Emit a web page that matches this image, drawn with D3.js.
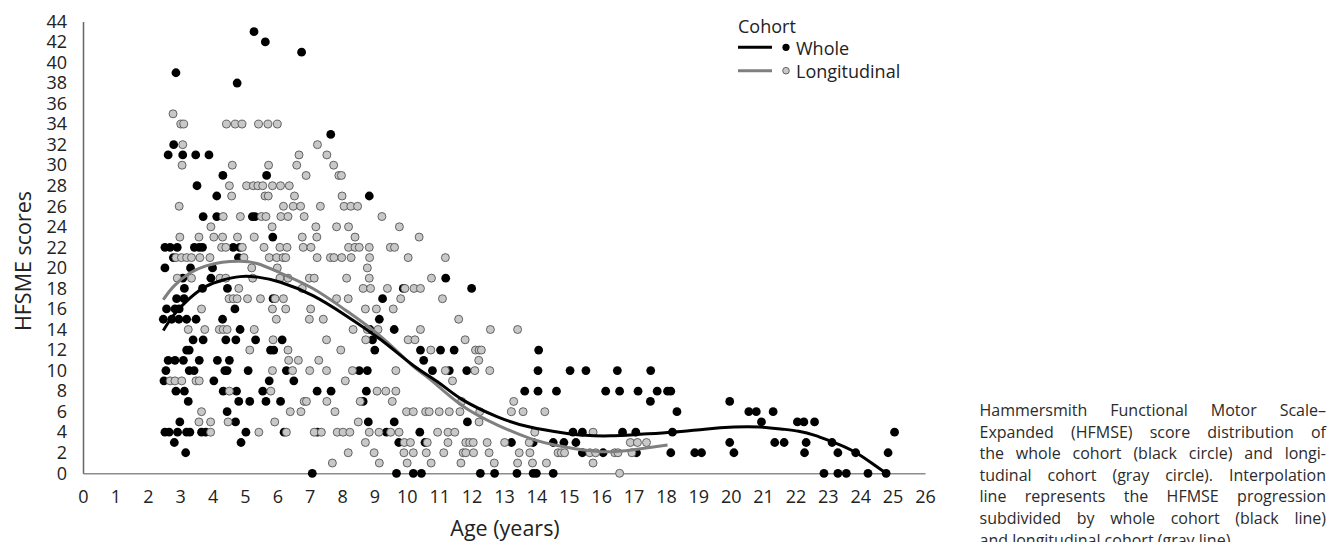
<!DOCTYPE html>
<html>
<head>
<meta charset="utf-8">
<script src="https://cdn.jsdelivr.net/npm/d3@7"></script>
<style>
body { margin: 0; background: #fff; }
svg { display: block; font-family: "Open Sans", sans-serif; }
</style>
</head>
<body>
<svg width="1329" height="542"></svg>
<script>
var xTicks = d3.range(0, 27);
var yTicks = d3.range(0, 45, 2);

// whole cohort (black circles): [score, [ages]]
var wholeRows = [
  [43, [5.28]], [42, [5.63]], [41, [6.75]], [39, [2.87]], [38, [4.76]],
  [33, [7.65]], [32, [2.80]], [31, [2.63, 3.08, 3.48, 3.89]],
  [29, [4.32, 5.67]], [28, [3.52]], [27, [4.13, 8.84]],
  [25, [3.71, 4.13, 5.23, 5.31]], [23, [5.86]],
  [22, [2.53, 2.69, 2.91, 3.44, 3.59, 3.69, 4.64, 4.84]],
  [21, [2.79, 4.80]], [20, [2.53, 3.32, 4.00]],
  [19, [3.08, 3.95, 11.20]], [18, [3.13, 3.69, 4.46, 9.89, 12.00]],
  [17, [2.89, 3.12, 5.87, 9.25]], [16, [2.58, 2.84, 2.97, 4.69]],
  [15, [2.48, 2.74, 2.96, 3.20, 3.49, 4.31, 9.15]],
  [14, [4.85, 8.86, 9.61]],
  [13, [3.40, 3.71, 4.41, 4.72, 5.33, 6.15, 8.94]],
  [12, [3.20, 3.28, 5.79, 5.89, 9.01, 10.42, 11.04, 11.46, 14.07]],
  [11, [2.63, 2.84, 3.10, 3.59, 4.15, 4.52, 10.52]],
  [10, [2.56, 3.28, 3.43, 4.38, 4.45, 5.10, 6.28, 8.53, 8.78, 10.79, 11.31, 11.85, 14.05, 15.04, 15.53, 16.50, 17.53]],
  [9, [2.50, 4.04, 5.75, 6.51]],
  [8, [2.87, 3.13, 4.33, 4.74, 5.55, 7.23, 7.66, 8.75, 13.64, 14.05, 14.62, 16.14, 16.57, 17.14, 17.73, 18.05, 18.15]],
  [7, [3.25, 4.81, 5.15, 5.65, 6.10, 8.65, 17.52, 19.97]],
  [6, [4.45, 18.34, 20.56, 20.79, 21.31]],
  [5, [2.99, 4.71, 8.81, 9.61, 11.87, 20.95, 22.06, 22.26, 22.59]],
  [4, [2.53, 2.66, 2.92, 3.20, 3.30, 3.66, 3.79, 5.03, 6.21, 7.24, 9.37, 10.40, 15.13, 15.42, 16.66, 17.07, 18.20, 25.06]],
  [3, [2.82, 4.88, 9.75, 10.56, 13.23, 13.90, 14.52, 14.85, 15.22, 19.97, 21.36, 21.65, 22.33, 23.13]],
  [2, [3.17, 15.42, 16.06, 17.09, 18.15, 18.89, 19.10, 20.10, 22.28, 23.31, 23.86, 24.86]],
  [0, [7.08, 9.68, 10.20, 10.45, 12.27, 12.71, 13.40, 13.90, 14.00, 14.52, 22.88, 23.31, 23.57, 24.24, 24.80]]
];

// longitudinal cohort (gray circles): [score, [ages]]
var longRows = [
  [35, [2.78]], [34, [3.02, 3.11, 4.43, 4.70, 4.91, 5.42, 5.71, 6.00]],
  [32, [3.08, 7.24]], [31, [6.67, 7.53]], [30, [3.06, 4.61, 5.73, 6.60, 7.74]],
  [29, [6.89, 7.90, 7.98]], [28, [4.52, 5.05, 5.26, 5.40, 5.55, 5.85, 6.10, 6.37]],
  [27, [4.59, 5.62, 5.72, 6.53, 8.00]],
  [26, [2.97, 6.19, 6.49, 6.72, 7.33, 8.06, 8.27, 8.48]],
  [25, [4.33, 4.86, 5.51, 5.65, 6.11, 6.33, 6.83, 9.23]],
  [24, [3.95, 5.84, 7.19, 7.83, 8.20, 9.77]],
  [23, [2.99, 3.58, 4.04, 4.31, 4.77, 5.29, 6.77, 7.22, 8.40, 10.38]],
  [22, [4.28, 4.41, 4.92, 5.59, 6.08, 6.30, 6.80, 7.04, 8.20, 8.40, 8.53, 8.84, 9.49, 9.62]],
  [21, [2.87, 3.04, 3.20, 3.35, 3.61, 3.92, 4.97, 5.75, 5.98, 6.18, 6.26, 7.23, 7.64, 7.75, 7.99, 8.28, 8.85, 10.04, 11.19]],
  [20, [5.21, 6.00, 8.78]],
  [19, [2.91, 3.35, 4.23, 4.41, 5.24, 6.08, 6.33, 6.99, 7.14, 8.14, 8.84, 10.76]],
  [18, [4.81, 6.77, 8.65, 8.88, 9.40, 9.94, 10.22, 10.42]],
  [17, [4.51, 4.64, 4.76, 5.08, 5.48, 5.93, 6.19, 7.83, 8.19, 9.81, 11.10]],
  [16, [3.66, 5.85, 6.26, 7.03, 8.72, 9.06, 9.58]],
  [15, [5.97, 6.99, 7.42, 11.60]],
  [14, [3.25, 3.76, 4.21, 4.33, 4.45, 5.29, 8.34, 8.78, 9.11, 10.42, 12.58, 13.42]],
  [13, [5.87, 7.52, 8.73, 10.04, 10.25, 11.80]],
  [12, [5.15, 6.33, 7.96, 10.74, 12.12, 12.23, 12.30]],
  [11, [6.35, 6.65, 7.28, 12.22]],
  [10, [5.85, 6.47, 7.00, 7.52, 8.32, 9.66, 11.19, 12.10, 12.56]],
  [9, [2.69, 2.84, 3.05, 3.49, 3.59, 8.10, 11.41]],
  [8, [4.52, 5.80, 9.08, 9.35, 9.66]],
  [7, [6.83, 6.90, 7.53, 8.56, 9.55, 11.69, 13.30]],
  [6, [3.66, 6.40, 6.73, 7.78, 9.99, 10.20, 10.58, 10.69, 11.00, 11.31, 11.64, 12.25, 13.23, 13.59, 14.26]],
  [5, [3.58, 3.94, 4.48, 5.92, 8.50, 12.23]],
  [4, [3.94, 5.43, 6.28, 7.14, 7.36, 7.85, 8.03, 8.24, 8.84, 9.14, 9.50, 9.76, 10.95, 11.27, 11.48, 13.95, 15.75]],
  [3, [8.72, 9.92, 10.11, 10.63, 11.27, 11.82, 11.94, 12.05, 12.48, 13.02, 13.78, 16.90, 17.12, 17.40]],
  [2, [8.19, 8.99, 9.91, 10.20, 10.60, 11.14, 11.74, 11.82, 12.06, 12.54, 13.47, 13.80, 14.67, 14.77, 14.87, 15.65, 15.83, 16.42, 16.52, 16.95]],
  [1, [7.70, 9.15, 10.01, 10.75, 11.67, 12.70, 13.42, 13.88, 14.31, 15.75]],
  [0, [16.57]]
];

// interpolation lines: [age, score]
var wholeCurve = [[2.48, 13.9], [2.8, 15.4], [3.3, 17.05], [3.8, 18.2], [4.3, 18.8], [4.85, 19.15],
  [5.4, 19.1], [6.1, 18.6], [7.1, 17.3], [8.1, 15.4], [9.2, 13.0], [10.2, 10.5], [11.0, 8.8],
  [11.7, 7.2], [12.8, 5.5], [13.8, 4.5], [14.8, 3.95], [15.5, 3.7], [16.3, 3.65], [17.2, 3.8],
  [18.2, 4.0], [19.2, 4.3], [20.1, 4.5], [20.9, 4.5], [21.6, 4.3], [22.1, 4.1], [22.6, 3.7],
  [23.1, 3.1], [23.5, 2.6], [23.9, 1.95], [24.35, 1.0], [24.8, 0]];
var longCurve = [[2.48, 16.9], [2.8, 18.2], [3.3, 19.5], [3.8, 20.2], [4.3, 20.55], [4.85, 20.65],
  [5.4, 20.4], [6.1, 19.5], [7.1, 18.0], [8.1, 15.9], [9.2, 13.3], [10.2, 10.4], [10.7, 9.2],
  [11.7, 6.6], [12.8, 4.7], [13.8, 3.4], [14.8, 2.6], [16.0, 2.1], [17.0, 2.3], [18.05, 2.75]];

var legendLabels = ["Whole", "Longitudinal"];
var captionLines = [
  "Hammersmith Functional Motor Scale–",
  "Expanded (HFMSE) score distribution of",
  "the whole cohort (black circle) and longi-",
  "tudinal cohort (gray circle). Interpolation",
  "line represents the HFMSE progression",
  "subdivided by whole cohort (black line)",
  "and longitudinal cohort (gray line)."
];

function flatten(rows) {
  var out = [];
  rows.forEach(function(r) { r[1].forEach(function(a) { out.push([a, r[0]]); }); });
  return out;
}
var wholePoints = flatten(wholeRows);
var longPoints = flatten(longRows);

var svg = d3.select("svg");
var x = d3.scaleLinear().domain([0, 26]).range([83, 925]);
var y = d3.scaleLinear().domain([0, 44]).range([473.3, 21.4]);
var textColor = "#222";

var gx = svg.append("g")
    .attr("transform", "translate(0," + y(0) + ")")
    .call(d3.axisBottom(x).tickValues(xTicks).tickSize(0).tickSizeOuter(0).tickPadding(17));
gx.select(".domain").attr("stroke", "#8c8c8c").attr("stroke-width", 1.5);
gx.selectAll("text").attr("font-size", 18).attr("font-family", "Open Sans").attr("fill", textColor);

var gy = svg.append("g")
    .attr("transform", "translate(" + x(0) + ",0)")
    .call(d3.axisLeft(y).tickValues(yTicks).tickSize(0).tickSizeOuter(0).tickPadding(16));
gy.select(".domain").attr("stroke", "#666").attr("stroke-width", 1.5);
gy.selectAll("text").attr("font-size", 18).attr("font-family", "Open Sans").attr("fill", textColor);

svg.append("text")
    .attr("transform", "translate(31,261) rotate(-90)")
    .attr("text-anchor", "middle")
    .attr("font-size", 21.5).attr("fill", textColor)
    .text("HFSME scores");
svg.append("text")
    .attr("x", 505).attr("y", 536)
    .attr("text-anchor", "middle")
    .attr("font-size", 21.5).attr("fill", textColor)
    .text("Age (years)");

// dots
svg.append("g").selectAll("circle").data(wholePoints).enter().append("circle")
    .attr("cx", function(d) { return x(d[0]); })
    .attr("cy", function(d) { return y(d[1]); })
    .attr("r", 4.4)
    .attr("fill", "#000");
svg.append("g").selectAll("circle").data(longPoints).enter().append("circle")
    .attr("cx", function(d) { return x(d[0]); })
    .attr("cy", function(d) { return y(d[1]); })
    .attr("r", 4.0)
    .attr("fill", "#c8c8c8")
    .attr("stroke", "#555")
    .attr("stroke-width", 0.9);

// lines
var line = d3.line()
    .x(function(d) { return x(d[0]); })
    .y(function(d) { return y(d[1]); })
    .curve(d3.curveNatural);
svg.append("path").datum(longCurve)
    .attr("d", line).attr("fill", "none")
    .attr("stroke", "#7f7f7f").attr("stroke-width", 3);
svg.append("path").datum(wholeCurve)
    .attr("d", line).attr("fill", "none")
    .attr("stroke", "#000").attr("stroke-width", 3);

// legend
var legend = svg.append("g");
legend.append("text").attr("x", 738).attr("y", 32.7)
    .attr("font-size", 18).attr("fill", textColor).text("Cohort");
var legColors = ["#000", "#7f7f7f"];
legendLabels.forEach(function(lab, i) {
  var ly = 47.3 + i * 23.4;
  legend.append("line").attr("x1", 738).attr("x2", 772).attr("y1", ly).attr("y2", ly)
      .attr("stroke", legColors[i]).attr("stroke-width", 3);
  legend.append("circle").attr("cx", 786).attr("cy", ly).attr("r", i === 0 ? 3.6 : 3.3)
      .attr("fill", i === 0 ? "#000" : "#c8c8c8")
      .attr("stroke", i === 0 ? "none" : "#555").attr("stroke-width", 0.9);
  legend.append("text").attr("x", 796).attr("y", ly + 7.5)
      .attr("font-size", 18).attr("fill", textColor).text(lab);
});

// caption, justified
var capLeft = 979.5, capRight = 1326, capWidth = capRight - capLeft;
var cap = svg.append("g").attr("fill", "#2b2b2b");
var probe = cap.append("text").attr("font-size", 16);
var maxW = 0;
captionLines.forEach(function(t) {
  probe.text(t);
  maxW = Math.max(maxW, probe.node().getComputedTextLength());
});
probe.remove();
var capSize = Math.min(16, 16 * (capWidth - 2) / maxW);

captionLines.forEach(function(t, i) {
  var by = 416 + i * 21.6;
  var words = t.split(" ");
  var last = i === captionLines.length - 1;
  var widths = words.map(function(w) {
    var tmp = cap.append("text").attr("font-size", capSize).text(w);
    var wd = tmp.node().getComputedTextLength();
    tmp.remove();
    return wd;
  });
  var total = d3.sum(widths);
  var gap = last ? capSize * 0.26 : (capWidth - total) / (words.length - 1);
  var cx = capLeft;
  words.forEach(function(w, j) {
    cap.append("text").attr("x", cx).attr("y", by)
        .attr("font-size", capSize).text(w);
    cx += widths[j] + gap;
  });
});
</script>
</body>
</html>
